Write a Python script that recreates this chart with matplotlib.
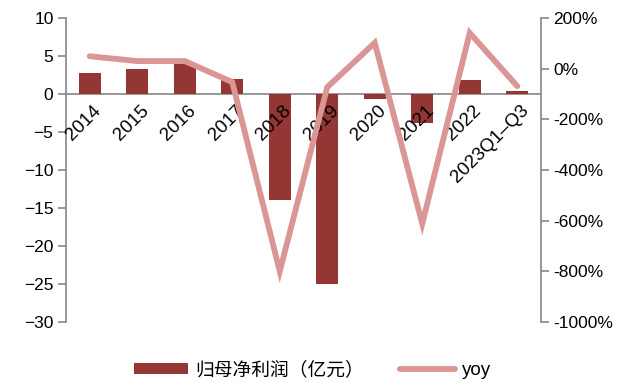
import matplotlib
matplotlib.use("Agg")
import matplotlib.pyplot as plt
from matplotlib.ticker import FuncFormatter, MultipleLocator

plt.rcParams['font.family'] = ['Liberation Sans', 'Noto Sans CJK SC', 'DejaVu Sans']

categories = ['2014', '2015', '2016', '2017', '2018', '2019', '2020', '2021', '2022', '2023Q1–Q3']
net_profit = [2.8, 3.3, 4.0, 2.0, -14.0, -25.0, -0.6, -3.8, 1.8, 0.4]   # 亿元
yoy = [49, 30, 30, -53, -800, -73, 102, -612, 141, -69]                  # %

bar_color = '#943634'
line_color = '#D99694'
axis_gray = '#868686'
fs = 12.5

fig = plt.figure(figsize=(6.25, 3.83), dpi=100)
ax = fig.add_axes([66 / 625, 1 - 322 / 383, (541 - 66) / 625, (322 - 18) / 383])
ax2 = ax.twinx()

x = list(range(len(categories)))
ax.bar(x, net_profit, width=0.46, color=bar_color, zorder=2, label='归母净利润（亿元）')
ax.axhline(0, color=axis_gray, lw=1.2, zorder=1)
ax.set_xlim(-0.5, len(categories) - 0.5)
ax.set_ylim(-30, 10)
ax.yaxis.set_major_locator(MultipleLocator(5))
ax.set_xticks([])

ax2.plot(x, yoy, color=line_color, lw=4.2, solid_capstyle='round',
         solid_joinstyle='miter', label='yoy', zorder=3)
ax2.set_ylim(-1000, 200)
ax2.yaxis.set_major_locator(MultipleLocator(200))
ax2.yaxis.set_major_formatter(FuncFormatter(lambda v, p: f'{int(round(v))}%'))

for a in (ax, ax2):
    for s in ('top', 'bottom'):
        a.spines[s].set_visible(False)
    a.tick_params(axis='y', direction='out', length=6, width=1.2, color=axis_gray,
                  labelsize=fs, pad=3)
ax.spines['right'].set_visible(False)
ax2.spines['left'].set_visible(False)
ax.spines['left'].set_color(axis_gray)
ax.spines['left'].set_linewidth(1.2)
ax2.spines['right'].set_color(axis_gray)
ax2.spines['right'].set_linewidth(1.2)

# category labels sit just under the zero line, rotated
for i, c in enumerate(categories):
    ax.annotate(c, xy=(i, 0), xytext=(3, -8), textcoords='offset pixels',
                ha='right', va='top', rotation=45, rotation_mode='anchor',
                fontsize=13.5, zorder=4)

h1, l1 = ax.get_legend_handles_labels()
h2, l2 = ax2.get_legend_handles_labels()
fig.legend(h1 + h2, l1 + l2, loc='center', bbox_to_anchor=(0.5, 1 - 370 / 383),
           ncol=2, frameon=False, fontsize=13.5, handlelength=2.9,
           handletextpad=0.4, columnspacing=1.9, handleheight=0.5)

fig.savefig('out.png', dpi=100)
